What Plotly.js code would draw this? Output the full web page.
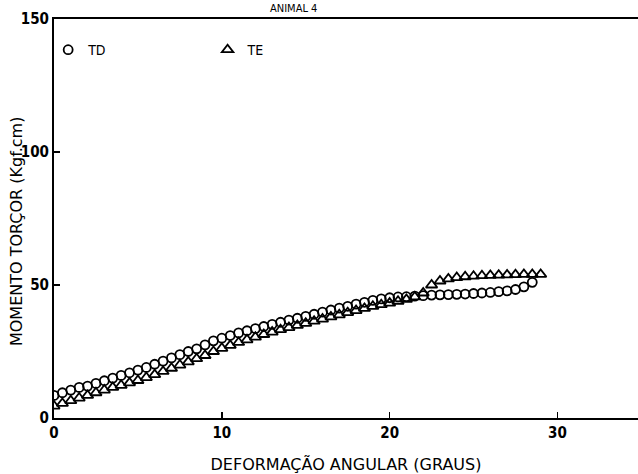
<!DOCTYPE html>
<html>
<head>
<meta charset="utf-8">
<script src="https://cdn.plot.ly/plotly-3.0.1.min.js"></script>
<style>html,body{margin:0;padding:0;background:#fff;}#chart{width:638px;height:474px;}</style>
</head>
<body>
<div id="chart"></div>
<script>
// TD series (circles): angular deformation (degrees) vs torque moment (Kgf.cm)
const tdX = [0,0.5,1,1.5,2,2.5,3,3.5,4,4.5,5,5.5,6,6.5,7,7.5,8,8.5,9,9.5,10,10.5,11,11.5,12,12.5,13,13.5,14,14.5,15,15.5,16,16.5,17,17.5,18,18.5,19,19.5,20,20.5,21,21.5,22,22.5,23,23.5,24,24.5,25,25.5,26,26.5,27,27.5,28,28.5];
const tdY = [8.5,9.5,10.5,11.5,12,13,14,15,16,17,18,19,20.2,21.4,22.6,23.8,25,26,27.5,29,30,31,32,32.8,33.6,34.4,35.2,36,36.8,37.5,38.2,39,39.8,40.6,41.3,42,42.8,43.5,44.2,44.8,45.2,45.5,45.6,45.8,46,46.2,46.3,46.4,46.5,46.6,46.8,47,47.2,47.5,47.8,48.3,49.3,51];
// TE series (triangles)
const teX = [0,0.5,1,1.5,2,2.5,3,3.5,4,4.5,5,5.5,6,6.5,7,7.5,8,8.5,9,9.5,10,10.5,11,11.5,12,12.5,13,13.5,14,14.5,15,15.5,16,16.5,17,17.5,18,18.5,19,19.5,20,20.5,21,21.5,22,22.5,23,23.5,24,24.5,25,25.5,26,26.5,27,27.5,28,28.5,29];
const teY = [4.5,5.5,6.5,7.5,8.5,9.5,10.5,11.5,12.3,13.2,14.1,15.2,16.3,17.5,18.7,19.9,21.1,22.3,23.5,25,26.2,27.3,28.4,29.4,30.4,31.4,32.3,33.2,34,34.8,35.6,36.4,37.2,38,38.8,39.6,40.4,41.2,42,42.6,43.2,43.9,44.6,45.5,47,50,51.5,52.3,52.8,53.1,53.3,53.5,53.6,53.7,53.8,53.9,54,54,54];
const xTicks = [0,10,20,30];
const yTicks = [0,50,100,150];
const seriesNames = ["TD","TE"];
const chartTitle = "ANIMAL 4";
const xTitle = "DEFORMAÇÃO ANGULAR (GRAUS)";
const yTitle = "MOMENTO TORÇOR (Kgf.cm)";

const fnt = "DejaVu Sans Condensed, DejaVu Sans, sans-serif";
const traces = [
  {x: tdX, y: tdY, name: seriesNames[0], type: "scatter", mode: "markers", legend: "legend",
   marker: {symbol: "circle-open", size: 9, color: "#000", line: {width: 1.8, color: "#000"}}},
  {x: teX, y: teY, name: seriesNames[1], type: "scatter", mode: "markers", legend: "legend2",
   marker: {symbol: "triangle-up-open", size: 10, color: "#000", line: {width: 1.8, color: "#000"}}}
];
const axisCommon = {
  showgrid: false, zeroline: false, showline: true, linecolor: "#000", linewidth: 2,
  ticks: "inside", ticklen: 6, tickwidth: 1.5, tickcolor: "#000",
  tickfont: {family: fnt, size: 15, color: "#000", weight: "bold"}
};
const legendCommon = {orientation: "h", yanchor: "middle", xanchor: "left", bgcolor: "rgba(0,0,0,0)",
  font: {family: fnt, size: 14, color: "#000"}, itemwidth: 30};
const layout = {
  width: 638, height: 474,
  margin: {l: 54, r: 0, t: 19, b: 56},
  paper_bgcolor: "#fff", plot_bgcolor: "#fff",
  font: {family: fnt, color: "#000"},
  xaxis: Object.assign({}, axisCommon, {
    range: [0, 34.8], tickmode: "array", tickvals: xTicks, mirror: true,
    title: {text: xTitle, font: {family: "DejaVu Sans, sans-serif", size: 16, color: "#000"}, standoff: 18}
  }),
  yaxis: Object.assign({}, axisCommon, {
    range: [0, 150], tickmode: "array", tickvals: yTicks
  }),
  showlegend: true,
  legend: Object.assign({}, legendCommon, {x: -0.01, y: 0.922}),
  legend2: Object.assign({}, legendCommon, {x: 0.263, y: 0.922}),
  annotations: [
    {text: chartTitle, xref: "paper", yref: "paper", x: 0.41, y: 1, xanchor: "center", yanchor: "bottom",
     yshift: 2, showarrow: false, font: {family: fnt, size: 11, color: "#000"}},
    {text: yTitle, xref: "paper", yref: "paper", x: 0, y: 0.466, xanchor: "center", yanchor: "middle",
     xshift: -38, textangle: -90, showarrow: false,
     font: {family: "DejaVu Sans, sans-serif", size: 16, color: "#000"}}
  ]
};
Plotly.newPlot("chart", traces, layout, {displayModeBar: false, staticPlot: true});
</script>
</body>
</html>
